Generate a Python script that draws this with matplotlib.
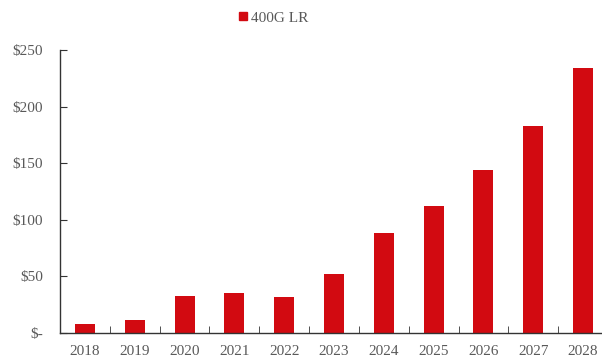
import matplotlib
matplotlib.use("Agg")
import matplotlib.pyplot as plt
from matplotlib.ticker import FixedLocator
from matplotlib.patches import Patch

years = ["2018", "2019", "2020", "2021", "2022", "2023", "2024", "2025", "2026", "2027", "2028"]
values = [8.2, 11.8, 32.7, 35.6, 31.8, 52, 88.3, 112, 144, 183, 234]
series_name = "400G LR"
ytick_vals = [0, 50, 100, 150, 200, 250]
ytick_labels = ["$-", "$50", "$100", "$150", "$200", "$250"]

plt.rcParams['font.family'] = ['Liberation Serif', 'DejaVu Serif']
txt = '#595959'
red = '#D20A11'

fig = plt.figure(figsize=(6.02, 3.58), dpi=100)
ax = fig.add_axes([60/602, (358-333)/358, (608-60)/602, (333-50)/358])

x = list(range(len(years)))
ax.bar(x, values, width=0.4, color=red, zorder=2)
ax.set_xlim(-0.5, len(years)-0.5)
ax.set_ylim(0, 250)

ax.set_yticks(ytick_vals)
ax.set_yticklabels(ytick_labels, color=txt, fontsize=11)
ax.set_xticks(x)
ax.set_xticklabels(years, color=txt, fontsize=11)
ax.xaxis.set_minor_locator(FixedLocator([i + 0.5 for i in range(len(years)-1)]))
ax.tick_params(axis='x', which='major', length=0, pad=8.5)
ax.tick_params(axis='x', which='minor', length=5, direction='in', color='#333333')
ax.tick_params(axis='y', length=5, direction='in', color='#333333', pad=12)

for s in ['top', 'right']:
    ax.spines[s].set_visible(False)
for s in ['left', 'bottom']:
    ax.spines[s].set_color('#333333')
    ax.spines[s].set_linewidth(1.0)

handle = Patch(color=red, label=series_name)
fig.legend(handles=[handle], loc='center', bbox_to_anchor=(274/602, 1-18/358),
           frameon=False, fontsize=11, labelcolor=txt, handlelength=0.5, handleheight=0.4,
           handletextpad=0.3)

fig.savefig("out.png", dpi=100)
